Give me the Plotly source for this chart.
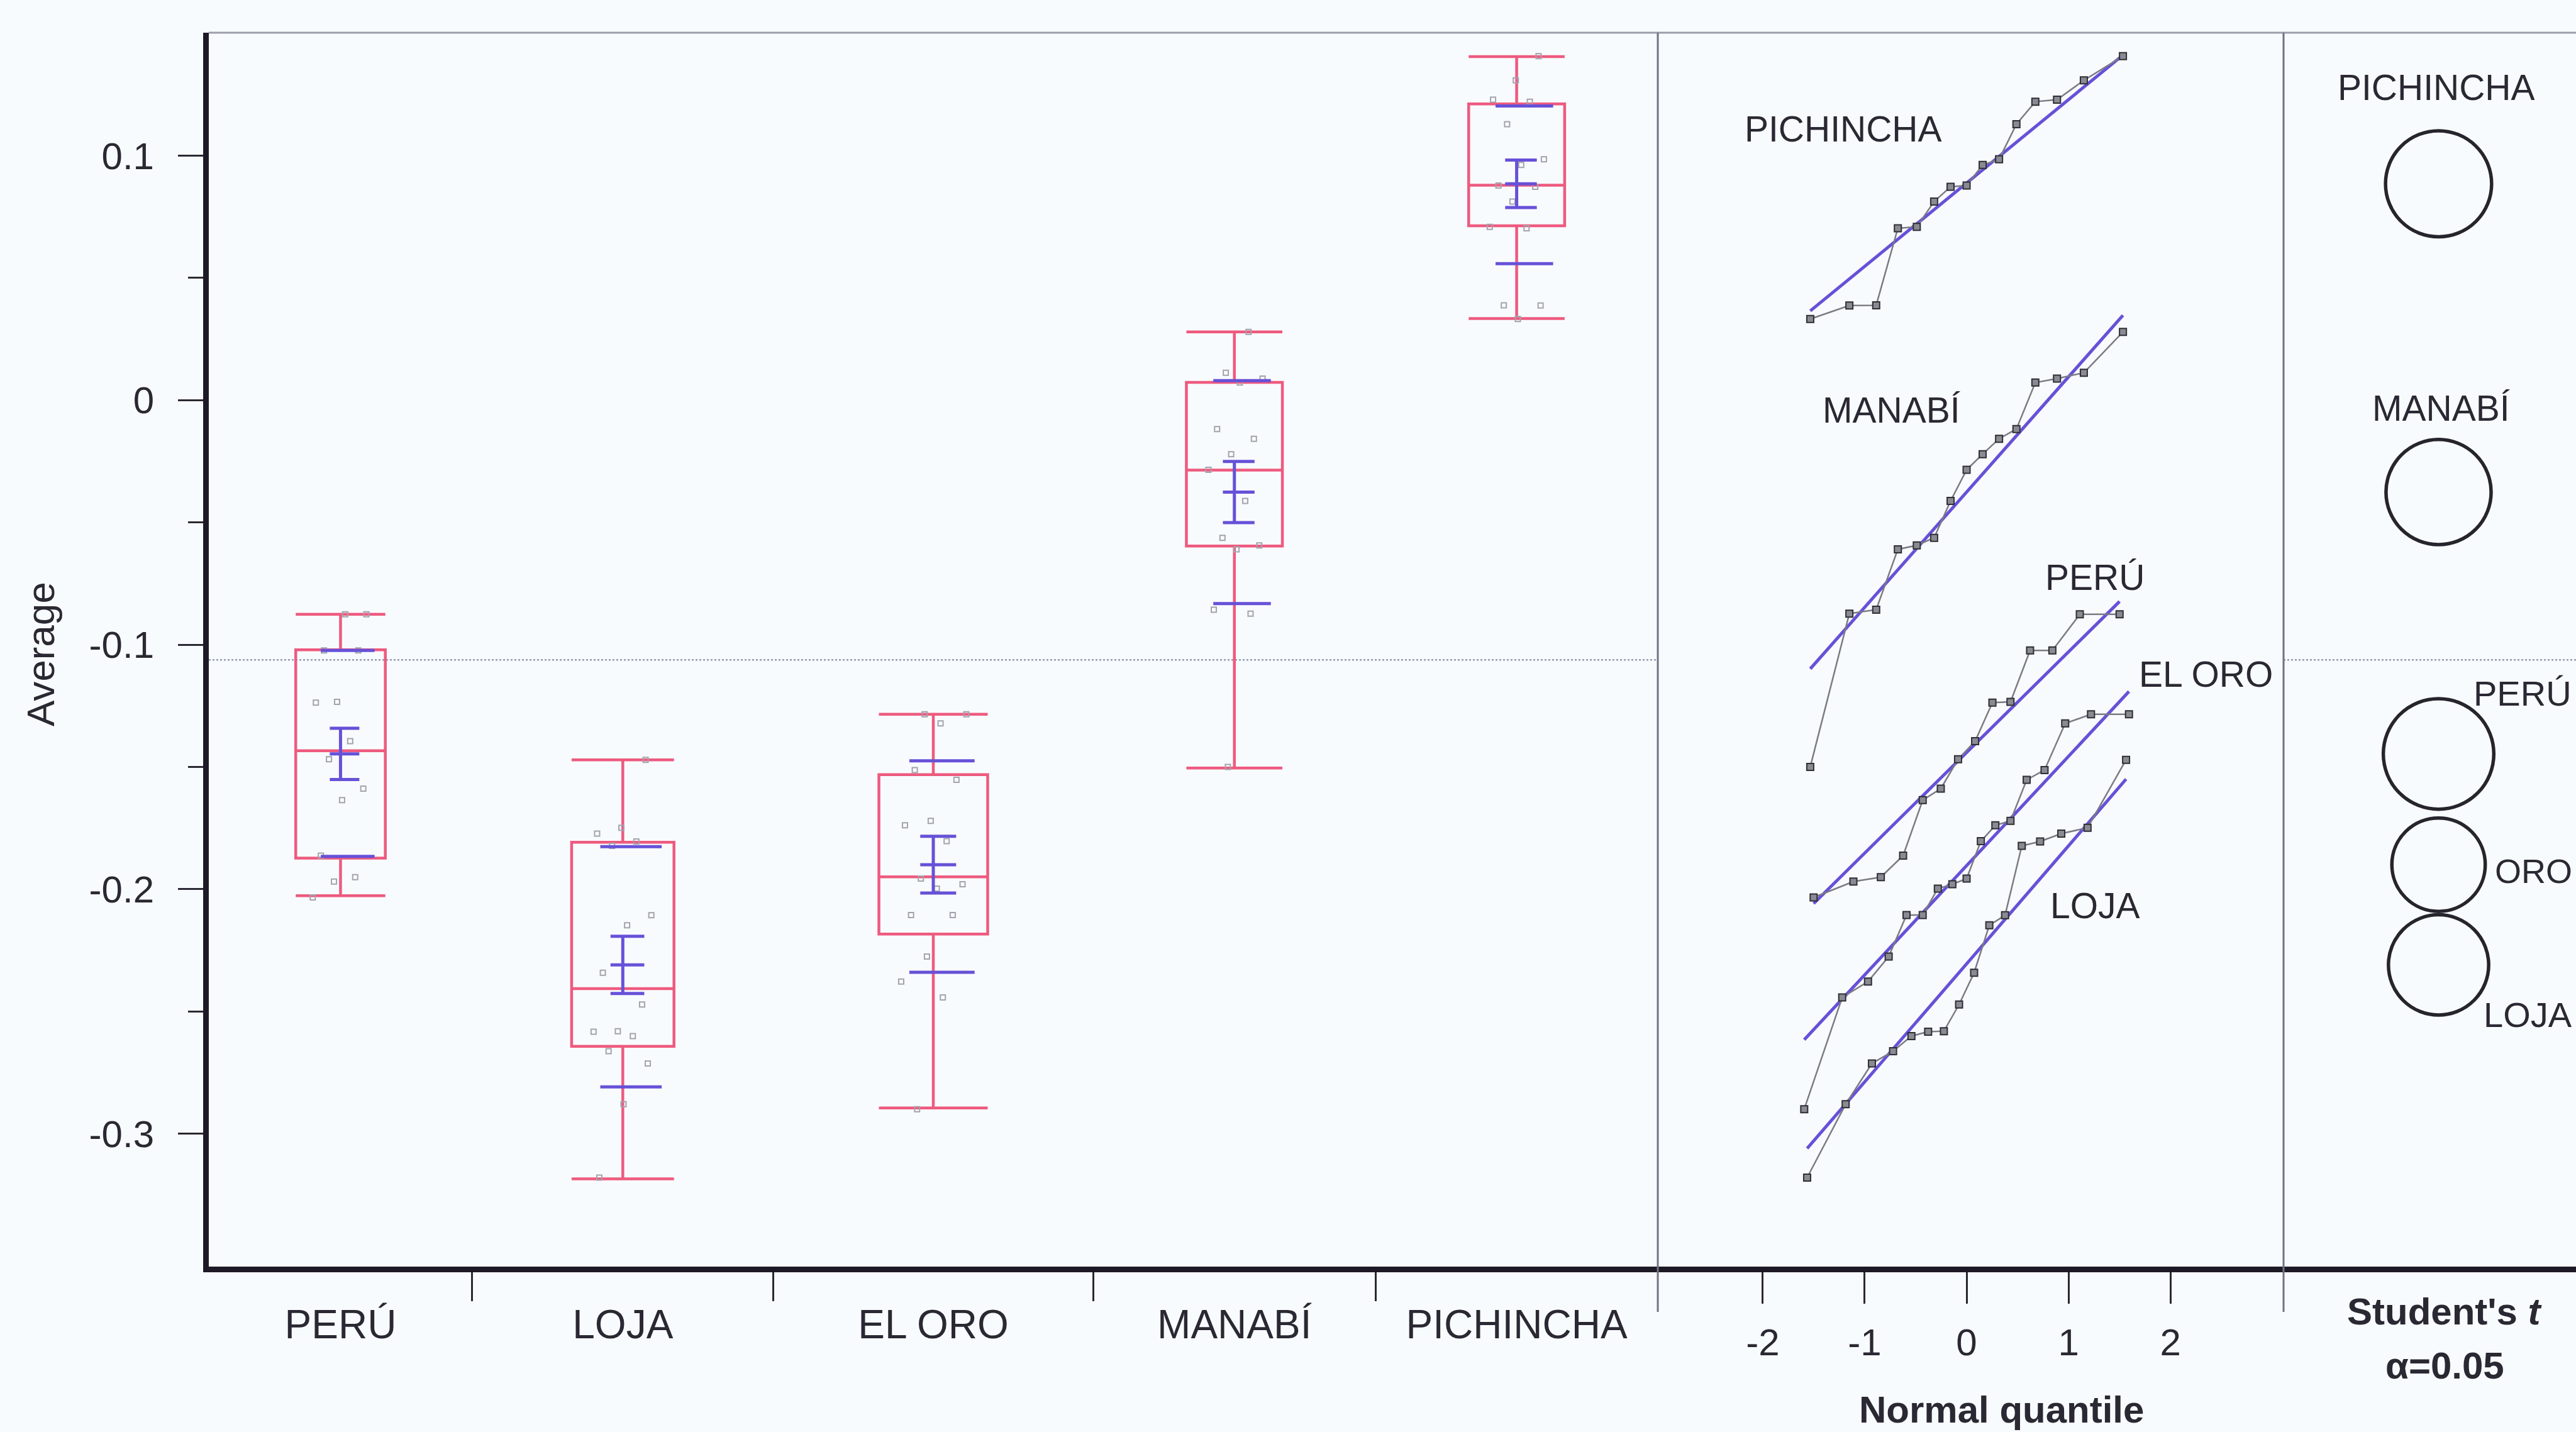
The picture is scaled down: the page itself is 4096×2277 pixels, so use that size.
import numpy as np
import plotly.graph_objects as go
from statistics import NormalDist

# ---------------- data ----------------
groups = ["PERÚ", "LOJA", "EL ORO", "MANABÍ", "PICHINCHA"]

peru = [-0.2034, -0.1969, -0.1951, -0.1863, -0.1636, -0.1589, -0.1469, -0.1395,
        -0.1237, -0.1234, -0.1024, -0.1024, -0.0876, -0.0876]
loja = [-0.3180, -0.2880, -0.2713, -0.2663, -0.2601, -0.2583, -0.2581, -0.2472,
        -0.2342, -0.2148, -0.2107, -0.1823, -0.1805, -0.1773, -0.1749, -0.1471]
el_oro = [-0.2900, -0.2443, -0.2378, -0.2276, -0.2106, -0.2106, -0.1998, -0.1980,
          -0.1957, -0.1804, -0.1739, -0.1721, -0.1553, -0.1513, -0.1322, -0.1285, -0.1285]
manabi = [-0.1500, -0.0873, -0.0857, -0.0610, -0.0594, -0.0563, -0.0412, -0.0285,
          -0.0221, -0.0158, -0.0118, 0.0072, 0.0088, 0.0112, 0.0279]
pichincha = [0.0332, 0.0387, 0.0388, 0.0703, 0.0709, 0.0812, 0.0873, 0.0878,
             0.0962, 0.0985, 0.1129, 0.1221, 0.1229, 0.1308, 0.1407]
values = [peru, loja, el_oro, manabi, pichincha]

# outlier-box summaries
upper_whisker = [-0.0876, -0.1471, -0.1285, 0.0279, 0.1405]
q3 = [-0.1021, -0.1808, -0.1532, 0.0073, 0.1212]
median = [-0.1434, -0.2407, -0.1950, -0.0286, 0.0879]
q1 = [-0.1873, -0.2643, -0.2184, -0.0597, 0.0713]
lower_whisker = [-0.2027, -0.3185, -0.2895, -0.1505, 0.0334]

# means, mean error bars and spread lines
means = [-0.1447, -0.2310, -0.1900, -0.0376, 0.0885]
err_half = [0.0105, 0.0117, 0.0116, 0.0125, 0.0097]
std_hi = [-0.1024, -0.1826, -0.1475, 0.0080, 0.1203]
std_lo = [-0.1866, -0.2809, -0.2340, -0.0832, 0.0558]

# Student's t comparison circle radii
circle_radius = [0.0226, 0.0205, 0.0191, 0.0215, 0.0217]
grand_mean = -0.1062

y_ticks = [0.1, 0.0, -0.1, -0.2, -0.3]
y_tick_text = ["0.1", "0", "-0.1", "-0.2", "-0.3"]
y_minor = [0.05, -0.05, -0.15, -0.25]
q_ticks = [-2, -1, 0, 1, 2]
q_tick_text = ["-2", "-1", "0", "1", "2"]

# ---------------- geometry ----------------
W, H = 4096, 2277
X_LEFT, X_DIV1, X_DIV2 = 332, 2636, 3631
Y_TOP, Y_BOT = 52, 2014
y_range = [-0.3544, 0.1503]
y_dom = [1 - Y_BOT / H, 1 - Y_TOP / H]
x1_dom = [X_LEFT / W, X_DIV1 / W]
x2_dom = [X_DIV1 / W, X_DIV2 / W]
x3_dom = [X_DIV2 / W, 1.0]
q_range = [-3.03, 3.11]

px_per_unit = (Y_BOT - Y_TOP) / (y_range[1] - y_range[0])
x3_range = [0, (W - X_DIV2) / px_per_unit]

PINK = "#ee5a7f"
BLUE = "#6651d8"
INK = "#2a2833"
AXIS = "#1d1a26"
BG = "#f8fbfd"
FONT = "Liberation Sans, Arial, sans-serif"

counts = [len(v) for v in values]
edges = np.concatenate([[0], np.cumsum(counts)])
centers = (edges[:-1] + edges[1:]) / 2.0
box_w = [0.34 * c for c in counts]

fig = go.Figure()

# ---------------- box panel ----------------
for i, g in enumerate(groups):
    fig.add_trace(go.Box(
        x=[centers[i]], q1=[q1[i]], median=[median[i]], q3=[q3[i]],
        lowerfence=[lower_whisker[i]], upperfence=[upper_whisker[i]],
        width=box_w[i], whiskerwidth=1.0, boxpoints=False,
        line=dict(color=PINK, width=4.5), fillcolor="rgba(0,0,0,0)",
        hoverinfo="skip", showlegend=False, xaxis="x", yaxis="y"))

# jittered raw observations
px, py = [], []
for i, v in enumerate(values):
    for k, val in enumerate(v):
        frac = ((k * 0.381966 + 0.13 * i) % 1.0) - 0.5
        px.append(centers[i] + frac * 0.62 * box_w[i])
        py.append(val)
fig.add_trace(go.Scatter(
    x=px, y=py, mode="markers", xaxis="x", yaxis="y", hoverinfo="skip",
    marker=dict(symbol="square-open", size=8, color="#a3a3ae", line=dict(width=2)),
    showlegend=False))

# means, mean error bars, spread lines
bx, by = [], []
for i in range(len(groups)):
    c, w = centers[i], box_w[i]
    a, b = c - 0.12 * w, c + 0.21 * w
    m, e = means[i], err_half[i]
    bx += [a, b, None, a, b, None, a, b, None, c, c, None]
    by += [m, m, None, m + e, m + e, None, m - e, m - e, None, m - e, m + e, None]
    sa, sb = c - 0.22 * w, c + 0.38 * w
    bx += [sa, sb, None, sa, sb, None]
    by += [std_hi[i], std_hi[i], None, std_lo[i], std_lo[i], None]
fig.add_trace(go.Scatter(x=bx, y=by, mode="lines", xaxis="x", yaxis="y",
                         line=dict(color=BLUE, width=5), hoverinfo="skip",
                         showlegend=False))

# ---------------- normal quantile panel ----------------
nd = NormalDist()
for i, v in enumerate(values):
    arr = np.sort(np.array(v))
    n = len(arr)
    q = np.array([nd.inv_cdf((k + 1) / (n + 1)) for k in range(n)])
    mu, sd = arr.mean(), arr.std(ddof=1)
    fig.add_trace(go.Scatter(
        x=[q[0], q[-1]], y=[mu + sd * q[0], mu + sd * q[-1]], mode="lines",
        xaxis="x2", yaxis="y2", line=dict(color=BLUE, width=5),
        hoverinfo="skip", showlegend=False))
    fig.add_trace(go.Scatter(
        x=q, y=arr, mode="lines+markers", xaxis="x2", yaxis="y2",
        line=dict(color="#7b7b84", width=2.5),
        marker=dict(symbol="square", size=11, color="#8a8a92",
                    line=dict(color="#2e2e36", width=2)),
        hoverinfo="skip", showlegend=False))

qq_labels = [("PICHINCHA", -1.21, 0.111), ("MANABÍ", -0.74, -0.004),
             ("PERÚ", 1.26, -0.0725), ("EL ORO", 2.35, -0.112), ("LOJA", 1.26, -0.2067)]

# ---------------- comparison circles panel ----------------
cx3 = 0.0634
shapes = []
for i in range(len(groups)):
    r = circle_radius[i]
    shapes.append(dict(type="circle", xref="x3", yref="y3",
                       x0=cx3 - r, x1=cx3 + r, y0=means[i] - r, y1=means[i] + r,
                       line=dict(color="#26242c", width=5.5)))
# invisible anchor trace so the third pair of axes is drawn
fig.add_trace(go.Scatter(x=[cx3], y=[grand_mean], mode="markers", xaxis="x3",
                         yaxis="y3", marker=dict(opacity=0), hoverinfo="skip",
                         showlegend=False))

# grand mean reference line
for xr, x0, x1 in [("x", 0, edges[-1]), ("x3", x3_range[0], x3_range[1])]:
    shapes.append(dict(type="line", xref=xr, yref="y", x0=x0, x1=x1,
                       y0=grand_mean, y1=grand_mean, layer="below",
                       line=dict(color="#949bb0", width=2.5, dash="dot")))

# top border and panel dividers
shapes.append(dict(type="line", xref="paper", yref="paper", x0=x1_dom[0], x1=1.0,
                   y0=y_dom[1], y1=y_dom[1], line=dict(color="#9a9eaa", width=3)))
for xd in (x2_dom[0], x3_dom[0]):
    shapes.append(dict(type="line", xref="paper", yref="paper", x0=xd, x1=xd,
                       y0=1 - (Y_BOT + 72) / H, y1=y_dom[1],
                       line=dict(color="#6f7384", width=3)))

annotations = []
for name, xq, yv in qq_labels:
    annotations.append(dict(text=name, x=xq, y=yv, xref="x2", yref="y2",
                            xanchor="center", yanchor="middle", showarrow=False,
                            font=dict(size=57, color=INK, family=FONT)))

circle_labels = [("PICHINCHA", 0.0624, 0.128, "center", 57),
                 ("MANABÍ", 0.0644, -0.0033, "center", 57),
                 ("PERÚ", 0.0772, -0.120, "left", 56),
                 ("ORO", 0.0859, -0.1926, "left", 54),
                 ("LOJA", 0.0812, -0.2514, "left", 56)]
for name, xv, yv, anc, fs in circle_labels:
    annotations.append(dict(text=name, x=xv, y=yv, xref="x3", yref="y3", xanchor=anc,
                            yanchor="middle", showarrow=False,
                            font=dict(size=fs, color=INK, family=FONT)))


def paper_text(text, x_px, y_px, size, angle=0):
    return dict(text=text, x=x_px / W, y=1 - y_px / H, xref="paper", yref="paper",
                xanchor="center", yanchor="middle", textangle=angle, showarrow=False,
                font=dict(size=size, color=INK, family=FONT))


annotations += [
    paper_text("Average", 65, 1040, 62, -90),
    paper_text("<b>Normal quantile</b>", 3182, 2241, 60),
    paper_text("<b>Student's <i>t</i></b>", 3887, 2085, 60),
    paper_text("<b>α=0.05</b>", 3887, 2171, 60),
]

tickfont = dict(size=60, color=INK, family=FONT)
common_x = dict(showline=True, linewidth=9, linecolor=AXIS, showgrid=False,
                zeroline=False, mirror=False)

fig.update_layout(
    width=W, height=H, margin=dict(l=0, r=0, t=0, b=0, autoexpand=False),
    paper_bgcolor=BG, plot_bgcolor=BG, boxmode="overlay", showlegend=False,
    shapes=shapes, annotations=annotations,
    xaxis=dict(domain=x1_dom, range=[0, edges[-1]], anchor="y",
               tickvals=list(centers), ticktext=groups, ticks="",
               ticklabelstandoff=28, tickfont=dict(size=64, color=INK, family=FONT),
               minor=dict(tickvals=list(edges[1:-1]), ticks="outside", ticklen=46,
                          tickwidth=3, tickcolor=INK),
               **common_x),
    yaxis=dict(domain=y_dom, range=y_range, anchor="x",
               tickvals=y_ticks, ticktext=y_tick_text, ticks="outside", ticklen=40,
               tickwidth=3, tickcolor=INK, tickfont=tickfont, ticklabelstandoff=26,
               minor=dict(tickvals=y_minor, ticks="outside", ticklen=24, tickwidth=3,
                          tickcolor=INK),
               showline=True, linewidth=9, linecolor=AXIS, showgrid=False,
               zeroline=False),
    xaxis2=dict(domain=x2_dom, range=q_range, anchor="y2",
                tickvals=q_ticks, ticktext=q_tick_text, ticks="outside", ticklen=50,
                tickwidth=3, tickcolor=INK, tickfont=tickfont, ticklabelstandoff=10,
                **common_x),
    yaxis2=dict(domain=y_dom, range=y_range, anchor="x2", matches="y",
                showticklabels=False, ticks="", showline=False, showgrid=False,
                zeroline=False),
    xaxis3=dict(domain=x3_dom, range=x3_range, anchor="y3", showticklabels=False,
                ticks="", **common_x),
    yaxis3=dict(domain=y_dom, range=y_range, anchor="x3", matches="y",
                showticklabels=False, ticks="", showline=False, showgrid=False,
                zeroline=False),
)

fig.write_html("out.html")
